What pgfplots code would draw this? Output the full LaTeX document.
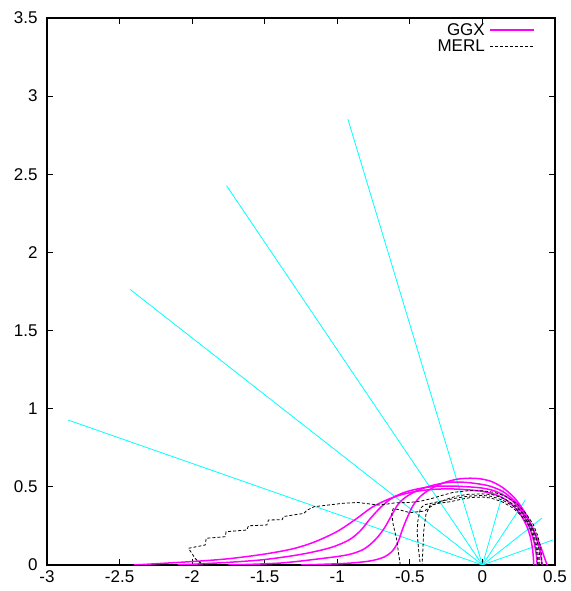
\documentclass[border=0pt]{standalone}
\usepackage{pgfplots}
\pgfplotsset{compat=1.18}
\usepackage{fontspec}
\setmainfont{Liberation Sans}
\definecolor{ggx}{RGB}{255,0,255}
\definecolor{cy}{RGB}{0,255,255}
\begin{document}
\begin{tikzpicture}
\begin{axis}[
  scale only axis, width=508pt, height=547pt,
  xmin=-3, xmax=0.5, ymin=0, ymax=3.5,
  xtick={-3,-2.5,-2,-1.5,-1,-0.5,0,0.5},
  ytick={0,0.5,1,1.5,2,2.5,3,3.5},
  xtick pos=both, ytick pos=both,
  tick align=inside, major tick length=6pt,
  tick style={black, line width=0.9pt},
  axis line style={black, line width=1.3pt},
  /pgf/number format/assume math mode=true,
  ticklabel style={font=\fontsize{17}{19}\selectfont},
  xticklabel style={yshift=-2pt},
  yticklabel style={xshift=-6pt},
  legend style={draw=none, fill=none, at={(1,1)}, anchor=north east,
    xshift=-17pt, yshift=-2pt, font=\fontsize{17}{18}\selectfont,
    row sep=1pt, nodes={inner xsep=1.5pt, inner ysep=1pt}},
  legend cell align=right,
  legend plot pos=right,
  legend image code/.code={\path (0pt,0pt); \draw[#1] (3pt,0pt) -- (47pt,0pt);},
]
% incident / reflected direction lines
\addplot[cy, line width=0.8pt, forget plot] coordinates {(0,0) (-2.853,0.927)};
\addplot[cy, line width=0.8pt, forget plot] coordinates {(0,0) (-2.427,1.763)};
\addplot[cy, line width=0.8pt, forget plot] coordinates {(0,0) (-1.763,2.427)};
\addplot[cy, line width=0.8pt, forget plot] coordinates {(0,0) (-0.927,2.853)};
\addplot[cy, line width=0.8pt, forget plot] coordinates {(0,0) (0.150,0.490)};
\addplot[cy, line width=0.8pt, forget plot] coordinates {(0,0) (0.295,0.415)};
\addplot[cy, line width=0.8pt, forget plot] coordinates {(0,0) (0.410,0.300)};
\addplot[cy, line width=0.8pt, forget plot] coordinates {(0,0) (0.485,0.160)};
% GGX
\addplot[ggx, line width=1.5pt, smooth] coordinates {
(-2.40,0.0) (-2.0,0.022) (-1.75,0.04) (-1.5,0.07) (-1.3,0.105) (-1.15,0.15) (-1.0,0.215) (-0.87,0.295) (-0.76,0.37) (-0.65,0.42) (-0.55,0.452) (-0.45,0.472) (-0.34,0.484) (-0.22,0.487) (-0.1,0.481) (0.0,0.471) (0.1,0.447) (0.18,0.405) (0.25,0.34) (0.30,0.26) (0.33,0.18) (0.347,0.09) (0.354,0.0)};
\addlegendentry{GGX}
\addplot[ggx, line width=1.5pt, smooth, forget plot] coordinates {
(-2.10,0.0) (-1.75,0.017) (-1.5,0.035) (-1.25,0.068) (-1.05,0.11) (-0.92,0.16) (-0.84,0.22) (-0.77,0.30) (-0.70,0.37) (-0.62,0.43) (-0.52,0.47) (-0.40,0.495) (-0.29,0.505) (-0.15,0.503) (0.0,0.492) (0.1,0.468) (0.2,0.415) (0.27,0.34) (0.32,0.25) (0.355,0.15) (0.372,0.06) (0.377,0.0)};
\addplot[ggx, line width=1.5pt, smooth, forget plot] coordinates {
(-1.75,0.0) (-1.4,0.012) (-1.12,0.04) (-0.93,0.065) (-0.82,0.10) (-0.74,0.16) (-0.68,0.23) (-0.63,0.31) (-0.58,0.39) (-0.52,0.44) (-0.44,0.48) (-0.34,0.51) (-0.24,0.528) (-0.14,0.53) (-0.05,0.522) (0.05,0.505) (0.15,0.465) (0.24,0.39) (0.31,0.30) (0.36,0.20) (0.395,0.10) (0.411,0.0)};
\addplot[ggx, line width=1.5pt, smooth, forget plot] coordinates {
(-1.25,0.0) (-0.95,0.01) (-0.78,0.025) (-0.68,0.05) (-0.62,0.09) (-0.58,0.15) (-0.55,0.23) (-0.515,0.31) (-0.475,0.385) (-0.42,0.445) (-0.35,0.49) (-0.27,0.525) (-0.18,0.548) (-0.10,0.555) (-0.02,0.552) (0.06,0.535) (0.14,0.495) (0.22,0.43) (0.29,0.34) (0.35,0.23) (0.40,0.12) (0.43,0.04) (0.446,0.0)};
% MERL
\addplot[black, line width=0.8pt, dash pattern=on 3pt off 2pt] coordinates {
(0.41,0) (0.408,0.06) (0.40,0.12) (0.38,0.19) (0.35,0.26) (0.30,0.33) (0.24,0.39) (0.16,0.44) (0.08,0.465) (0,0.475) (-0.1,0.475) (-0.2,0.465) (-0.28,0.445) (-0.35,0.425) (-0.42,0.41) (-0.5,0.40) (-0.6,0.398) (-0.67,0.388) (-0.72,0.384) (-0.77,0.39) (-0.86,0.40) (-0.96,0.395) (-1.05,0.385) (-1.16,0.373) (-1.21,0.35) (-1.23,0.33) (-1.29,0.322) (-1.37,0.31) (-1.38,0.29) (-1.474,0.288) (-1.485,0.256) (-1.612,0.251) (-1.623,0.224) (-1.766,0.213) (-1.772,0.181) (-1.903,0.171) (-1.91,0.128) (-2.025,0.107) (-1.98,0.043) (-1.956,0.021) (-1.91,0)};
\addlegendentry{MERL}
\addplot[black, line width=0.8pt, dash pattern=on 3pt off 2pt, forget plot] coordinates {
(0.395,0) (0.395,0.06) (0.385,0.12) (0.365,0.19) (0.335,0.26) (0.285,0.325) (0.225,0.38) (0.15,0.425) (0.07,0.45) (0,0.455) (-0.1,0.452) (-0.18,0.44) (-0.25,0.42) (-0.30,0.40) (-0.34,0.384) (-0.40,0.345) (-0.5,0.335) (-0.58,0.355) (-0.615,0.36) (-0.625,0.33) (-0.615,0.26) (-0.60,0.20) (-0.59,0.16) (-0.578,0.075) (-0.566,0)};
\addplot[black, line width=0.8pt, dash pattern=on 3pt off 2pt, forget plot] coordinates {
(0.385,0) (0.385,0.06) (0.375,0.12) (0.355,0.19) (0.325,0.26) (0.275,0.32) (0.215,0.375) (0.14,0.415) (0.06,0.44) (0,0.445) (-0.1,0.44) (-0.17,0.43) (-0.25,0.415) (-0.33,0.40) (-0.40,0.385) (-0.428,0.362) (-0.445,0.28) (-0.45,0.213) (-0.44,0.10) (-0.428,0)};
\addplot[black, line width=0.8pt, dash pattern=on 3pt off 2pt, forget plot] coordinates {
(0.38,0) (0.378,0.06) (0.368,0.12) (0.348,0.19) (0.318,0.255) (0.268,0.315) (0.21,0.365) (0.135,0.405) (0.06,0.428) (0,0.435) (-0.08,0.432) (-0.15,0.42) (-0.22,0.405) (-0.30,0.395) (-0.36,0.384) (-0.39,0.32) (-0.405,0.213) (-0.41,0.10) (-0.416,0)};
\coordinate (ll) at (rel axis cs:0,0);
\coordinate (ur) at (rel axis cs:1,1);
\end{axis}
\path ([xshift=-47pt,yshift=-26pt]ll) rectangle ([xshift=13pt,yshift=18pt]ur);
\end{tikzpicture}
\end{document}
